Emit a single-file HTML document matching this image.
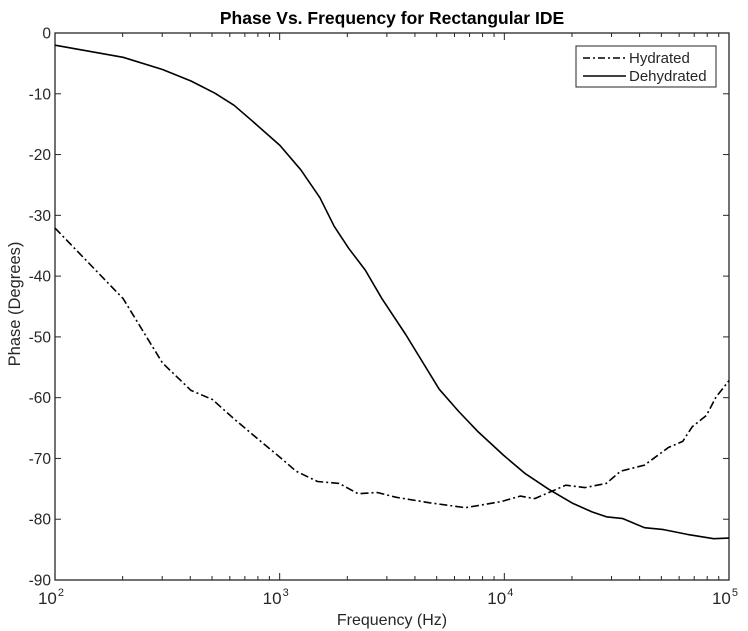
<!DOCTYPE html>
<html><head><meta charset="utf-8"><style>
body{margin:0;background:#fff;}
svg{display:block;font-family:"Liberation Sans",sans-serif;}
</style></head><body>
<svg id="chart" width="748" height="631" viewBox="0 0 748 631" xmlns="http://www.w3.org/2000/svg">
<rect width="748" height="631" fill="#fff"/>
<text x="392" y="24" text-anchor="middle" font-size="17.5" font-weight="bold" fill="#000">Phase Vs. Frequency for Rectangular IDE</text>
<g id="axes"></g>
<g id="series"></g>
<g>
<rect x="576" y="46" width="140" height="41" fill="#fff" stroke="#262626" stroke-width="1"/>
<line x1="583" y1="58" x2="626" y2="58" stroke="#000" stroke-width="1.5" stroke-dasharray="7,3,2,3"/>
<text x="629" y="63" font-size="15" fill="#262626">Hydrated</text>
<line x1="583" y1="76" x2="626" y2="76" stroke="#000" stroke-width="1.5"/>
<text x="629" y="81" font-size="15" fill="#262626">Dehydrated</text>
</g>
<text x="392" y="625" text-anchor="middle" font-size="16" fill="#262626">Frequency (Hz)</text>
<text transform="translate(20,304) rotate(-90)" text-anchor="middle" font-size="16.5" fill="#262626">Phase (Degrees)</text>
</svg>
<script>
const dehydFreq=[100,201,301,403,515,627,762,1002,1242,1510,1749,2026,2403,2852,3638,5129,6237,7585,9932,12382,15810,20190,24550,28430,33720,42060,51160,65320,85490,100000];
const dehydPhase=[-2.0,-4.0,-6.0,-7.9,-9.9,-11.9,-14.6,-18.5,-22.5,-27.1,-31.8,-35.4,-39.0,-43.7,-49.6,-58.6,-62.2,-65.5,-69.5,-72.5,-75.1,-77.4,-78.8,-79.6,-79.9,-81.4,-81.7,-82.5,-83.2,-83.1];
const hydFreq=[100,201,301,403,502,627,800,1002,1184,1473,1837,2235,2717,3304,4654,6715,9686,11782,13650,15810,18760,22810,28430,32910,42060,53710,62220,68560,79380,87540,100000];
const hydPhase=[-32.1,-43.7,-54.3,-58.8,-60.3,-63.5,-66.8,-69.8,-72.1,-73.8,-74.1,-75.8,-75.6,-76.4,-77.3,-78.1,-77.1,-76.2,-76.6,-75.6,-74.4,-74.8,-74.1,-72.1,-71.1,-68.2,-67.2,-64.8,-62.9,-59.9,-57.2];
const yTicks=[0,-10,-20,-30,-40,-50,-60,-70,-80,-90];
const xDecades=[2,3,4,5];

const L=55,R=729,T=33,B=580;
const xs=f=>L+(Math.log10(f)-2)/3*(R-L);
const ys=v=>T+(0-v)/90*(B-T);
const NS="http://www.w3.org/2000/svg";
function mk(tag,attrs,parent){const e=document.createElementNS(NS,tag);for(const k in attrs)e.setAttribute(k,attrs[k]);parent.appendChild(e);return e;}
const ax=document.getElementById('axes');
const frame=mk('rect',{x:L,y:T,width:R-L,height:B-T,fill:'none',stroke:'#262626','stroke-width':1.3},ax);


yTicks.forEach(v=>{
  const y=ys(v);
  mk('line',{x1:L,y1:y,x2:L+6,y2:y,stroke:'#262626'},ax);
  mk('line',{x1:R,y1:y,x2:R-6,y2:y,stroke:'#262626'},ax);
  const t=mk('text',{x:L-4,y:y+5.5,'text-anchor':'end','font-size':15.5,fill:'#262626'},ax);
  t.textContent=String(v);
  
  
});
for(let d=2;d<5;d++){for(let m=2;m<=9;m++){const x=xs(m*Math.pow(10,d));
  mk('line',{x1:x,y1:B,x2:x,y2:B-4,stroke:'#262626'},ax);
  mk('line',{x1:x,y1:T,x2:x,y2:T+4,stroke:'#262626'},ax);}}
xDecades.forEach(d=>{
  const x=xs(Math.pow(10,d));
  mk('line',{x1:x,y1:B,x2:x,y2:B-7,stroke:'#262626'},ax);
  mk('line',{x1:x,y1:T,x2:x,y2:T+7,stroke:'#262626'},ax);
  const t=mk('text',{x:x-4,y:B+24,'text-anchor':'middle','font-size':17,fill:'#262626'},ax);
  
  
  t.textContent='10';
  const s=mk('tspan',{dx:1,dy:-8,'font-size':11},t);
  s.textContent=String(d);
});
const sg=document.getElementById('series');
function line(fr,ph,dash,name){
  const d=fr.map((f,i)=>(i?'L':'M')+xs(f).toFixed(1)+','+ys(ph[i]).toFixed(1)).join('');
  const p=mk('path',{d:d,fill:'none',stroke:'#000','stroke-width':1.6,'stroke-linejoin':'round'},sg);
  if(dash)p.setAttribute('stroke-dasharray',dash);
  
  
}
line(dehydFreq,dehydPhase,null,'dehydrated-line');
line(hydFreq,hydPhase,'8,3,2,3','hydrated-line');
</script>
</body></html>
